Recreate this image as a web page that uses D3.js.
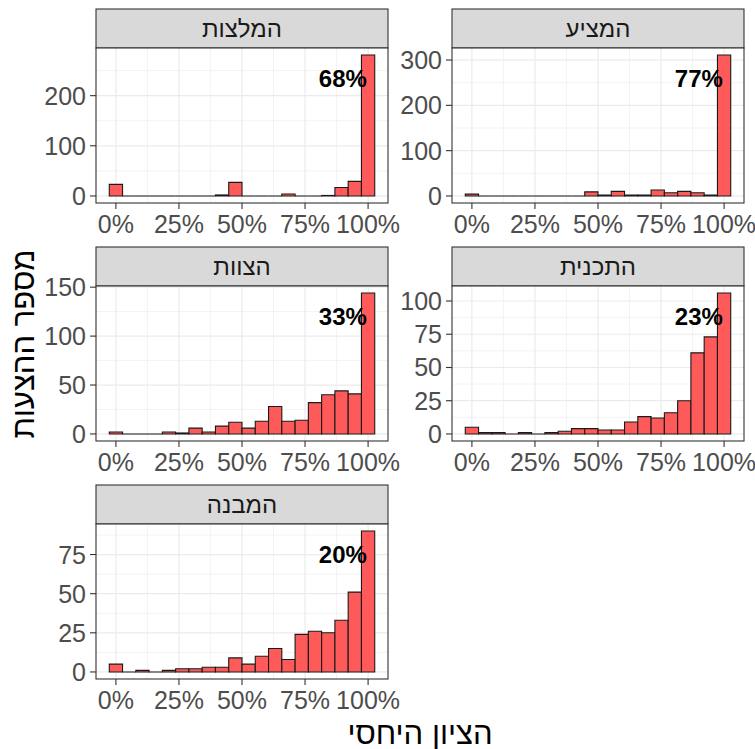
<!DOCTYPE html>
<html>
<head>
<meta charset="utf-8">
<script src="https://cdnjs.cloudflare.com/ajax/libs/d3/7.8.5/d3.min.js"></script>
<style>
  body { margin: 0; background: #fff; }
  svg text { font-family: "Liberation Sans", Arial, sans-serif; }
</style>
</head>
<body>
<div id="chart"></div>
<script>
// facets in display order (row by row)
const facetNames = ["המלצות", "המציע", "הצוות", "התכנית", "המבנה"];

// histogram counts, 20 bins from 0% to 100%
const countsRecommend = [23, 0, 0, 0, 0, 0, 0, 0, 2, 27, 0, 0, 0, 4, 0, 0, 1, 17, 29, 281];
const countsProposer  = [4, 0, 0, 0, 0, 0, 0, 0, 0, 9, 2, 10, 2, 2, 13, 7, 10, 7, 2, 311];
const countsTeam      = [2, 0, 0, 0, 2, 1, 6, 2, 8, 12, 6, 13, 28, 13, 14, 32, 40, 44, 41, 144];
const countsProgram   = [5, 1, 1, 0, 1, 0, 1, 2, 4, 4, 3, 3, 9, 13, 12, 16, 25, 61, 73, 106];
const countsStructure = [5, 0, 1, 0, 1, 2, 2, 3, 3, 9, 5, 10, 15, 8, 24, 26, 25, 33, 51, 90];

const percentLabels = ["68%", "77%", "33%", "23%", "20%"];

const yTicks = [
    [0, 100, 200],
    [0, 100, 200, 300],
    [0, 50, 100, 150],
    [0, 25, 50, 75, 100],
    [0, 25, 50, 75]
];
const xTickValues = [0, 0.25, 0.5, 0.75, 1];
const xTickLabels = ["0%", "25%", "50%", "75%", "100%"];
const xMinorValues = [0.125, 0.375, 0.625, 0.875];

const allCounts = [countsRecommend, countsProposer, countsTeam, countsProgram, countsStructure];

const width = 755, height = 749;
const colX = [96, 452];
const rowY = [9, 247, 485];
const panelW = 292, stripH = 39, panelH = 155;
const nBins = 20;
const binW = 1 / (nBins - 1);

const svg = d3.select("#chart").append("svg")
    .attr("width", width)
    .attr("height", height);

// bins centred on k/19, plus 5% expansion like ggplot
const x = d3.scaleLinear()
    .domain([-binW / 2 - binW, 1 + binW / 2 + binW])
    .range([0, panelW]);

facetNames.forEach((name, i) => {
    const counts = allCounts[i];
    const col = i % 2, row = Math.floor(i / 2);
    const g = svg.append("g")
        .attr("transform", `translate(${colX[col]},${rowY[row]})`);

    const maxC = d3.max(counts);
    const y = d3.scaleLinear()
        .domain([-0.05 * maxC, 1.05 * maxC])
        .range([stripH + panelH, stripH]);

    // strip
    g.append("rect")
        .attr("x", 0).attr("y", 0)
        .attr("width", panelW).attr("height", stripH)
        .attr("fill", "#d9d9d9")
        .attr("stroke", "#333").attr("stroke-width", 1.1);
    g.append("text")
        .attr("x", panelW / 2).attr("y", stripH / 2)
        .attr("text-anchor", "middle")
        .attr("dominant-baseline", "central")
        .attr("fill", "#1a1a1a")
        .style("font-size", "24px")
        .text(name);

    const panel = g.append("g");
    panel.append("rect")
        .attr("x", 0).attr("y", stripH)
        .attr("width", panelW).attr("height", panelH)
        .attr("fill", "#fff");

    // y minor grid: midpoints between major ticks that fall in range
    const ticks = yTicks[i];
    const step = ticks[1] - ticks[0];
    const yMinor = d3.range(ticks[0] + step / 2, y.domain()[1], step);

    panel.selectAll(".xminor").data(xMinorValues).join("line")
        .attr("x1", d => x(d)).attr("x2", d => x(d))
        .attr("y1", stripH).attr("y2", stripH + panelH)
        .attr("stroke", "#ebebeb").attr("stroke-width", 0.6);
    panel.selectAll(".yminor").data(yMinor).join("line")
        .attr("x1", 0).attr("x2", panelW)
        .attr("y1", d => y(d)).attr("y2", d => y(d))
        .attr("stroke", "#ebebeb").attr("stroke-width", 0.6);
    panel.selectAll(".xmajor").data(xTickValues).join("line")
        .attr("x1", d => x(d)).attr("x2", d => x(d))
        .attr("y1", stripH).attr("y2", stripH + panelH)
        .attr("stroke", "#ebebeb").attr("stroke-width", 1.2);
    panel.selectAll(".ymajor").data(ticks).join("line")
        .attr("x1", 0).attr("x2", panelW)
        .attr("y1", d => y(d)).attr("y2", d => y(d))
        .attr("stroke", "#ebebeb").attr("stroke-width", 1.2);

    // bars as paths so empty bins still show their outline
    panel.selectAll(".bar").data(counts).join("path")
        .attr("d", (c, k) => {
            const x0 = x(k * binW - binW / 2), x1 = x(k * binW + binW / 2);
            return `M${x0},${y(0)}V${y(c)}H${x1}V${y(0)}Z`;
        })
        .attr("fill", "#ff5a5a")
        .attr("stroke", "#1a1a1a")
        .attr("stroke-width", 1.1);

    panel.append("text")
        .attr("x", x(0.9))
        .attr("y", y(0.835 * maxC))
        .attr("text-anchor", "middle")
        .attr("dominant-baseline", "central")
        .attr("fill", "#000")
        .style("font-size", "24px")
        .style("font-weight", "bold")
        .text(percentLabels[i]);

    panel.append("rect")
        .attr("x", 0).attr("y", stripH)
        .attr("width", panelW).attr("height", panelH)
        .attr("fill", "none")
        .attr("stroke", "#333").attr("stroke-width", 1.1);

    // y axis
    const yAxis = g.append("g");
    yAxis.selectAll("line").data(ticks).join("line")
        .attr("x1", -6).attr("x2", 0)
        .attr("y1", d => y(d)).attr("y2", d => y(d))
        .attr("stroke", "#333").attr("stroke-width", 1.1);
    yAxis.selectAll("text").data(ticks).join("text")
        .attr("x", -10).attr("y", d => y(d))
        .attr("dy", "0.36em")
        .attr("text-anchor", "end")
        .attr("fill", "#4d4d4d")
        .style("font-size", "25px")
        .text(d => d);

    // x axis
    const xAxis = g.append("g");
    xAxis.selectAll("line").data(xTickValues).join("line")
        .attr("x1", d => x(d)).attr("x2", d => x(d))
        .attr("y1", stripH + panelH).attr("y2", stripH + panelH + 6)
        .attr("stroke", "#333").attr("stroke-width", 1.1);
    xAxis.selectAll("text").data(xTickValues).join("text")
        .attr("x", d => x(d)).attr("y", stripH + panelH + 30)
        .attr("text-anchor", "middle")
        .attr("fill", "#4d4d4d")
        .style("font-size", "25px")
        .text((d, k) => xTickLabels[k]);
});

// axis titles
svg.append("text")
    .attr("x", (colX[0] + colX[1] + panelW) / 2)
    .attr("y", 733)
    .attr("text-anchor", "middle")
    .attr("dominant-baseline", "central")
    .attr("fill", "#000")
    .style("font-size", "31px")
    .text("הציון היחסי");

svg.append("text")
    .attr("transform", "translate(23,344) rotate(-90)")
    .attr("text-anchor", "middle")
    .attr("dominant-baseline", "central")
    .attr("fill", "#000")
    .style("font-size", "31px")
    .text("מספר ההצעות");
</script>
</body>
</html>
